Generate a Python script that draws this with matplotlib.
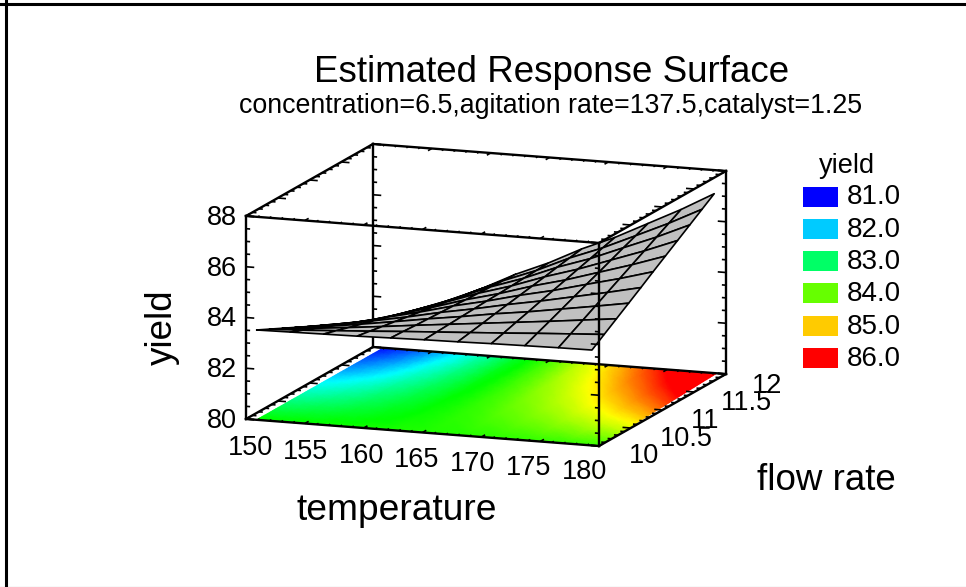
import numpy as np
import matplotlib
matplotlib.use('Agg')
import matplotlib.pyplot as plt
import matplotlib.tri as mtri
from matplotlib.collections import LineCollection, PolyCollection
from matplotlib.colors import LinearSegmentedColormap, Normalize
from matplotlib.patches import Rectangle

plt.rcParams['font.family'] = ['Liberation Sans', 'DejaVu Sans']

# axis ranges and tick labels
x_major = [150, 155, 160, 165, 170, 175, 180]
y_major = [10, 10.5, 11, 11.5, 12]
z_major = [80, 82, 84, 86, 88]
x_range = (150, 180)
y_range = (10, 12)
z_range = (80, 88)

legend_levels = [81.0, 82.0, 83.0, 84.0, 85.0, 86.0]

# yield, rows go from flow rate 10 to 12, columns from low to high temperature
yield_grid = np.array([
    [83.54, 83.56, 83.58, 83.60, 83.63, 83.66, 83.68, 83.71, 83.73, 83.75, 83.76],
    [83.29, 83.35, 83.43, 83.51, 83.60, 83.68, 83.76, 83.84, 83.93, 84.01, 84.09],
    [83.04, 83.14, 83.27, 83.41, 83.56, 83.70, 83.84, 83.98, 84.12, 84.27, 84.42],
    [82.79, 82.93, 83.12, 83.32, 83.53, 83.72, 83.93, 84.11, 84.32, 84.53, 84.75],
    [82.54, 82.72, 82.97, 83.22, 83.50, 83.74, 84.01, 84.25, 84.52, 84.79, 85.08],
    [82.30, 82.51, 82.82, 83.13, 83.47, 83.76, 84.09, 84.38, 84.72, 85.05, 85.42],
    [82.05, 82.29, 82.66, 83.03, 83.43, 83.77, 84.17, 84.51, 84.91, 85.31, 85.75],
    [81.80, 82.08, 82.51, 82.94, 83.40, 83.79, 84.25, 84.65, 85.11, 85.57, 86.08],
    [81.55, 81.87, 82.36, 82.84, 83.37, 83.81, 84.34, 84.78, 85.31, 85.83, 86.41],
    [81.30, 81.66, 82.20, 82.75, 83.33, 83.83, 84.42, 84.92, 85.50, 86.09, 86.74],
    [81.05, 81.45, 82.05, 82.65, 83.30, 83.85, 84.50, 85.05, 85.70, 86.35, 87.07],
])

# rainbow running from blue at 81 to red at 86
cmap = LinearSegmentedColormap.from_list('rainbow5', ['#0000ff', '#00ffff', '#00ff00', '#ffff00', '#ff0000'], N=1024)
norm = Normalize(81, 86)


def project(x, y, z):
    # parallel projection of the box onto the picture
    a = (np.asarray(x) - x_range[0]) / (x_range[1] - x_range[0])
    b = (np.asarray(y) - y_range[0]) / (y_range[1] - y_range[0])
    c = (np.asarray(z) - z_range[0]) / (z_range[1] - z_range[0])
    return 246 + 353 * a + 127 * b, 419 + 27 * a - 72 * b - 203 * c


def grid_xy(x_left, x_right_front, x_right_back):
    rows, cols = yield_grid.shape
    yy = np.linspace(y_range[0], y_range[1], rows)
    right = np.linspace(x_right_front, x_right_back, rows)
    xx = np.array([np.linspace(x_left, r, cols) for r in right])
    return xx, np.repeat(yy[:, None], cols, axis=1)


def edge(ax, p0, p1, lw=1.7, zorder=2):
    px, py = project(*zip(p0, p1))
    ax.plot(px, py, color='black', lw=lw, zorder=zorder, solid_capstyle='projecting')


def ticks(ax, starts, offset, zorder):
    segs = []
    for s, size in starts:
        x0, y0 = project(*s)
        x1, y1 = project(s[0] + offset[0] * size, s[1] + offset[1] * size, s[2])
        segs.append([(x0, y0), (x1, y1)])
    ax.add_collection(LineCollection(segs, colors='black', linewidths=1.2, zorder=zorder))


fig = plt.figure(figsize=(9.66, 5.87), dpi=100)
ax = fig.add_axes([0, 0, 1, 1])
ax.set_xlim(0, 966)
ax.set_ylim(587, 0)
ax.axis('off')

# outer frame
ax.plot([5.5, 5.5], [0, 587], color='black', lw=2.2)
ax.plot([0, 966], [3.5, 3.5], color='black', lw=2.2)
ax.plot([0, 966], [587.5, 587.5], color='black', lw=2.2, clip_on=True)

x0, x1 = x_range
y0, y1 = y_range
z0, z1 = z_range

# floor with the contour colours
fx, fy = grid_xy(150.9, 180, 179.2)
px, py = project(fx, fy, z0)
floor_tri = mtri.Triangulation(px.ravel(), py.ravel())
refiner = mtri.UniformTriRefiner(floor_tri)
fine_tri, fine_z = refiner.refine_field(yield_grid.ravel(), triinterpolator=mtri.LinearTriInterpolator(floor_tri, yield_grid.ravel()), subdiv=3)
ax.tripcolor(fine_tri, fine_z, shading='gouraud', cmap=cmap, norm=norm, zorder=1)

# back of the box goes under the surface
edge(ax, (x0, y0, z0), (x1, y0, z0))
edge(ax, (x0, y1, z0), (x1, y1, z0))
edge(ax, (x0, y0, z0), (x0, y1, z0))
edge(ax, (x1, y0, z0), (x1, y1, z0))
edge(ax, (x0, y1, z0), (x0, y1, z1))
edge(ax, (x0, y1, z1), (x1, y1, z1))
edge(ax, (x0, y0, z1), (x0, y1, z1))
edge(ax, (x1, y1, z0), (x1, y1, z1))

x_ticks = [(float(v), 2 if v % 5 == 0 else 1) for v in range(150, 181)]
y_ticks = [(v, 2 if round(v * 10) % 5 == 0 else 1) for v in np.arange(10, 12.01, 0.1)]
z_ticks = [(v, 2 if v % 2 == 0 else 1) for v in np.arange(80, 88.01, 0.5)]

for zz in (z0, z1):
    ticks(ax, [((v, y0, zz), s) for v, s in x_ticks], (0, 0.03), 3)
    ticks(ax, [((v, y1, zz), s) for v, s in x_ticks], (0, -0.03), 3)
    ticks(ax, [((x0, v, zz), s) for v, s in y_ticks], (0.35, 0), 3)
    ticks(ax, [((x1, v, zz), s) for v, s in y_ticks], (-0.35, 0), 3)
ticks(ax, [((x0, y0, v), s) for v, s in z_ticks], (0.35, 0), 3)
ticks(ax, [((x0, y1, v), s) for v, s in z_ticks], (0.35, 0), 3)
ticks(ax, [((x1, y0, v), s) for v, s in z_ticks], (-0.35, 0), 6)
ticks(ax, [((x1, y1, v), s) for v, s in z_ticks], (-0.35, 0), 3)

# response surface, back rows first
sx, sy = grid_xy(150.9, 179.4, 179.0)
spx, spy = project(sx, sy, yield_grid)
quads = []
for i in range(yield_grid.shape[0] - 2, -1, -1):
    for j in range(yield_grid.shape[1] - 1):
        quads.append([(spx[i, j], spy[i, j]), (spx[i, j + 1], spy[i, j + 1]),
                      (spx[i + 1, j + 1], spy[i + 1, j + 1]), (spx[i + 1, j], spy[i + 1, j])])
ax.add_collection(PolyCollection(quads, facecolors='#c0c0c0', edgecolors='black', linewidths=1.2, zorder=4))

# front of the box goes over it
edge(ax, (x0, y0, z0), (x0, y0, z1), zorder=5)
edge(ax, (x1, y0, z0), (x1, y0, z1), zorder=5)
edge(ax, (x0, y0, z1), (x1, y0, z1), zorder=5)
edge(ax, (x1, y0, z1), (x1, y1, z1), zorder=5)

# tick labels
for v in x_major:
    k = (v - x_major[0]) / (x_major[-1] - x_major[0])
    ax.text(250 + 334 * k, 448 + 24 * k, str(v), fontsize=19.5, ha='center', va='center')
for k, v in enumerate(y_major):
    ax.text(629 + 30.7 * k, 456 - 17.5 * k, f'{v:g}', fontsize=19.5, ha='left', va='center')
for v in z_major:
    ax.text(237, project(x0, y0, v)[1] + 2, str(v), fontsize=19.5, ha='right', va='center')

# titles
ax.text(552, 72, 'Estimated Response Surface', fontsize=26.5, ha='center', va='center')
ax.text(551, 106, 'concentration=6.5,agitation rate=137.5,catalyst=1.25', fontsize=19.3, ha='center', va='center')
ax.text(397, 510, 'temperature', fontsize=26.7, ha='center', va='center')
ax.text(826, 481, 'flow rate', fontsize=26.5, ha='center', va='center')
ax.text(162, 327, 'yield', fontsize=26.5, rotation=90, ha='center', va='center')

# legend
ax.text(847, 166, 'yield', fontsize=19.5, ha='center', va='center')
for k, level in enumerate(legend_levels):
    top = 186.5 + 32.3 * k
    ax.add_patch(Rectangle((803, top), 34.5, 20, facecolor=cmap(norm(level)), edgecolor='none'))
    ax.text(847, top + 11, f'{level:.1f}', fontsize=20, ha='left', va='center')

fig.savefig('out.png', dpi=100)
